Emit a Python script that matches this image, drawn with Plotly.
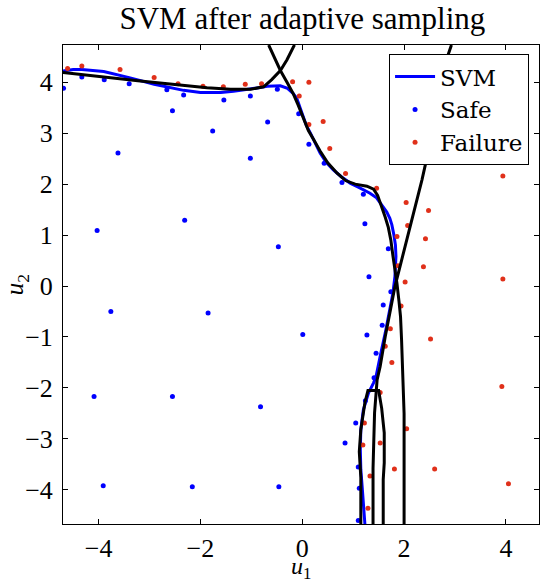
import plotly.graph_objects as go

# ---------------- data ----------------
svm_x = [-4.70, -4.50, -4.33, -3.90, -3.40, -2.91, -2.33, -2.00, -1.60, -1.35, -1.00, -0.69, -0.43, -0.29,
         -0.18, -0.11, -0.05, 0.02, 0.08, 0.16, 0.25, 0.35, 0.47, 0.61, 0.76, 0.94, 1.10, 1.20, 1.33, 1.46,
         1.59, 1.66, 1.72, 1.76, 1.80, 1.83, 1.84, 1.83, 1.82, 1.78, 1.71, 1.63, 1.53, 1.45, 1.40, 1.30,
         1.20, 1.15, 1.14, 1.15, 1.18, 1.21, 1.23]
svm_y = [4.22, 4.25, 4.25, 4.21, 4.09, 3.96, 3.84, 3.80, 3.80, 3.82, 3.87, 3.92, 3.93, 3.88,
         3.78, 3.69, 3.52, 3.33, 3.15, 3.00, 2.80, 2.61, 2.43, 2.28, 2.15, 2.02, 1.94, 1.89, 1.82, 1.73,
         1.56, 1.45, 1.33, 1.20, 1.00, 0.80, 0.58, 0.35, 0.19, -0.14, -0.53, -0.92, -1.38, -1.77, -1.90, -2.10,
         -2.43, -2.82, -3.21, -3.60, -3.99, -4.39, -4.67]

safe_x = [-4.69, -4.33, -3.89, -3.40, -3.62, -2.66, -2.55, -2.33, -1.76, -1.54, -1.02, -1.02, -0.68, -0.49,
          -0.07, 0.13, 0.43, 0.78, 1.20,
          -4.03, -2.31, -0.47, 1.23, 1.69, 1.31, 1.74, 1.59, 1.57, 1.27, 1.45, 1.41, -3.76, -1.85, 0.01,
          -4.09, -2.55, -0.82, 1.24, 1.05, 0.84, 1.10, 1.12, 1.10, -3.91, -2.16, -0.46]
safe_y = [3.88, 4.10, 4.05, 3.97, 2.61, 3.85, 3.44, 3.75, 3.04, 3.65, 3.73, 2.51, 3.22, 3.86,
          3.38, 2.78, 2.41, 2.03, 1.80,
          1.09, 1.29, 0.77, 1.22, 0.73, 0.18, -0.11, -0.37, -0.77, -0.96, -1.32, -1.80, -0.50, -0.53, -0.95,
          -2.17, -2.17, -2.37, -2.25, -2.69, -3.08, -3.55, -3.97, -4.60, -3.92, -3.94, -3.94]

fail_x = [-4.61, -4.33, -3.58, -2.91, -2.44, -1.95, -1.55, -1.12, -0.80, -0.19, 0.13, -0.06, 0.13, 0.41,
          0.54, 0.85, 1.46, 3.94, 2.04, 2.48, 2.07, 1.86, 2.42, 1.88, 2.38, 2.02, 3.94, 1.94, 1.73, 2.52,
          1.63, 1.76, 1.53, 1.22, 1.19, 1.53, 2.05, 1.81, 2.60, 1.33, 1.29, 3.92, 4.05]
fail_y = [4.27, 4.32, 4.25, 4.09, 3.97, 3.92, 3.91, 3.96, 3.97, 4.01, 4.00, 3.73, 3.17, 3.23,
          2.70, 2.21, 1.92, 2.16, 1.64, 1.48, 1.19, 0.97, 0.93, 0.40, 0.38, 0.08, 0.14, -0.39, -0.84, -1.04,
          -1.18, -1.50, -2.09, -2.69, -3.12, -3.08, -2.80, -3.59, -3.59, -3.73, -4.36, -1.97, -3.88]

# true limit-state contour segments (black)
ls1_x = [-4.70, -4.35, -3.90, -3.23, -2.55, -1.87, -1.41, -1.02, -0.76, -0.60, -0.43, -0.30, -0.17, -0.15]
ls1_y = [4.19, 4.15, 4.11, 4.03, 3.96, 3.89, 3.86, 3.86, 3.91, 4.05, 4.23, 4.44, 4.70, 4.73]

ls2_x = [-0.66, -0.53, -0.43, -0.30, -0.18, -0.08, 0.02, 0.12, 0.22, 0.35, 0.50, 0.68, 0.85, 1.04, 1.27,
         1.40, 1.48, 1.56, 1.63, 1.69, 1.74, 1.78, 1.82, 1.86, 1.90, 1.93, 1.95, 1.97, 1.99, 2.00, 2.00, 2.00]
ls2_y = [4.73, 4.45, 4.23, 4.00, 3.78, 3.55, 3.30, 3.05, 2.88, 2.65, 2.42, 2.22, 2.07, 2.00, 1.96,
         1.90, 1.78, 1.56, 1.35, 1.15, 0.90, 0.60, 0.35, 0.05, -0.30, -0.60, -1.05, -1.60, -2.30, -2.50, -3.50, -4.67]

ls3_x = [2.93, 2.75, 2.62, 2.52, 2.44, 2.35, 2.25, 2.12, 1.99, 1.89, 1.82, 1.72, 1.63, 1.53, 1.47,
         1.42, 1.40, 1.39, 1.39]
ls3_y = [4.73, 4.20, 3.60, 3.00, 2.48, 2.08, 1.69, 1.17, 0.71, 0.32, -0.01, -0.53, -0.99, -1.58, -1.84,
         -2.49, -3.06, -3.58, -4.67]

ls4_x = [1.15, 1.15, 1.12, 1.15, 1.23, 1.29, 1.50, 1.56, 1.61, 1.61, 1.59, 1.59]
ls4_y = [-4.67, -3.76, -3.25, -2.82, -2.29, -2.05, -2.05, -2.40, -2.88, -3.47, -3.80, -4.67]

x_range = [-4.70, 4.65]
y_range = [-4.67, 4.73]
tick_vals = [-4, -2, 0, 2, 4]
ytick_vals = [-4, -3, -2, -1, 0, 1, 2, 3, 4]

# ---------------- figure ----------------
FONT = "Liberation Serif"
LFONT = "DejaVu Serif"
BLUE = "#0000ff"
RED = "#e0301a"

fig = go.Figure()
fig.add_trace(go.Scatter(x=svm_x, y=svm_y, mode="lines", name="SVM",
                         line=dict(color=BLUE, width=3)))
fig.add_trace(go.Scatter(x=safe_x, y=safe_y, mode="markers", name="Safe",
                         marker=dict(color=BLUE, size=5)))
fig.add_trace(go.Scatter(x=fail_x, y=fail_y, mode="markers", name="Failure",
                         marker=dict(color=RED, size=5)))
for lx, ly in [(ls1_x, ls1_y), (ls2_x, ls2_y), (ls3_x, ls3_y), (ls4_x, ls4_y)]:
    fig.add_trace(go.Scatter(x=lx, y=ly, mode="lines", showlegend=False,
                             line=dict(color="black", width=3)))

axis_common = dict(showline=True, linecolor="black", linewidth=1, mirror="allticks",
                   ticks="inside", ticklen=5, tickcolor="black", showgrid=False, zeroline=False,
                   automargin=False,
                   tickfont=dict(family=FONT, size=26, color="black"))

fig.update_layout(
    width=540, height=583,
    margin=dict(l=63, r=1, t=45, b=59),
    paper_bgcolor="white", plot_bgcolor="white",
    font=dict(family=FONT, color="black"),
    title=dict(text="SVM after adaptive sampling", x=0.56, xanchor="center", y=0.988, yanchor="top",
               font=dict(family=FONT, size=31, color="black")),
    xaxis=dict(range=x_range, tickvals=tick_vals, ticklabelstandoff=1, **axis_common),
    yaxis=dict(range=y_range, tickvals=ytick_vals, ticklabelstandoff=4, **axis_common),
    legend=dict(x=0.685, y=0.981, xanchor="left", yanchor="top",
                bgcolor="white", bordercolor="black", borderwidth=1,
                font=dict(family=LFONT, size=23, color="black"),
                tracegroupgap=0, itemwidth=40),
    showlegend=True,
    annotations=[
        dict(text="<i>u</i><sub>1</sub>", xref="paper", yref="paper", x=0.50, y=-0.092,
             xanchor="center", yanchor="middle", showarrow=False,
             font=dict(family=FONT, size=24, color="black")),
        dict(text="<i>u</i><sub>2</sub>", xref="paper", yref="paper", x=-0.097, y=0.50,
             xanchor="center", yanchor="middle", showarrow=False, textangle=-90,
             font=dict(family=FONT, size=25, color="black")),
    ],
)

fig.write_html("out.html", config={"displayModeBar": False},
               post_script="document.body.style.margin='0px';")
